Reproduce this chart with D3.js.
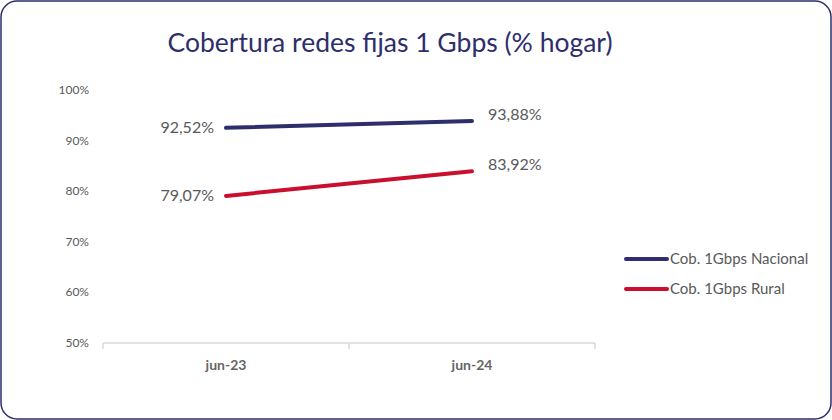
<!DOCTYPE html>
<html>
<head>
<meta charset="utf-8">
<script src="https://cdn.jsdelivr.net/npm/d3@7"></script>
<style>
  body { margin: 0; background: #fff; }
  svg { display: block; font-family: Lato, "Open Sans", sans-serif; }
</style>
</head>
<body>
<svg id="chart" width="832" height="420"></svg>
<script>
// data
const categories = ['jun-23', 'jun-24']
const nacional = [92.52, 93.88]
const rural = [79.07, 83.92]
const yTicks = [50, 60, 70, 80, 90, 100]
const seriesNames = ['Cob. 1Gbps Nacional', 'Cob. 1Gbps Rural']

const navy = '#2e2e6c'
const red = '#c8102e'
const grey = '#595959'

const svg = d3.select('#chart')

// frame
svg.append('rect')
  .attr('x', 1).attr('y', 1)
  .attr('width', 830).attr('height', 418)
  .attr('rx', 16).attr('ry', 16)
  .attr('fill', '#fff')
  .attr('stroke', navy)
  .attr('stroke-width', 1.5)

// title
svg.append('text')
  .attr('x', 390).attr('y', 52)
  .attr('text-anchor', 'middle')
  .attr('fill', navy)
  .attr('font-size', 26.5)
  .text('Cobertura redes fijas 1 Gbps (% hogar)')

// scales
const x = d3.scaleBand().domain(categories).range([103, 595])
const y = d3.scaleLinear().domain([50, 100]).range([343, 90])

// y axis labels
svg.append('g')
  .selectAll('text')
  .data(yTicks)
  .join('text')
  .attr('x', 89)
  .attr('y', d => y(d) + 4)
  .attr('text-anchor', 'end')
  .attr('fill', grey)
  .attr('font-size', 12)
  .text(d => d + '%')

// x axis
const xAxis = svg.append('g')
  .attr('transform', 'translate(0,343)')
  .call(d3.axisBottom(x).tickSize(0).tickFormat(''))
xAxis.select('.domain').remove()
xAxis.append('line')
  .attr('x1', 103).attr('x2', 595)
  .attr('stroke', '#d9d9d9').attr('stroke-width', 1.5)
xAxis.selectAll('.sep')
  .data([103, 349, 595])
  .join('line')
  .attr('x1', d => d).attr('x2', d => d)
  .attr('y1', 0).attr('y2', 6)
  .attr('stroke', '#d9d9d9').attr('stroke-width', 1.5)

svg.append('g')
  .selectAll('text')
  .data(categories)
  .join('text')
  .attr('x', d => x(d) + x.bandwidth() / 2)
  .attr('y', 370)
  .attr('text-anchor', 'middle')
  .attr('fill', '#666')
  .attr('font-size', 14)
  .attr('font-weight', 'bold')
  .text(d => d)

// lines
const line = d3.line()
  .x((d, i) => x(categories[i]) + x.bandwidth() / 2)
  .y(d => y(d))

const series = [
  {name: seriesNames[0], values: nacional, color: navy},
  {name: seriesNames[1], values: rural, color: red}
]

series.forEach(s => {
  svg.append('path')
    .datum(s.values)
    .attr('d', line)
    .attr('fill', 'none')
    .attr('stroke', s.color)
    .attr('stroke-width', 4)
    .attr('stroke-linecap', 'round')
})

// data labels
const fmt = v => v.toFixed(2).replace('.', ',') + '%'
series.forEach(s => {
  // first point: left of the marker
  svg.append('text')
    .attr('x', x(categories[0]) + x.bandwidth() / 2 - 12)
    .attr('y', y(s.values[0]) + 5)
    .attr('text-anchor', 'end')
    .attr('fill', grey)
    .attr('font-size', 16)
    .text(fmt(s.values[0]))
  // second point: above-right
  svg.append('text')
    .attr('x', x(categories[1]) + x.bandwidth() / 2 + 16)
    .attr('y', y(s.values[1]) - 1)
    .attr('text-anchor', 'start')
    .attr('fill', grey)
    .attr('font-size', 16)
    .text(fmt(s.values[1]))
})

// legend
const legend = svg.append('g')
  .selectAll('g')
  .data(series)
  .join('g')
  .attr('transform', (d, i) => 'translate(626,' + (259 + i * 30) + ')')
legend.append('line')
  .attr('x1', 0).attr('x2', 41)
  .attr('stroke', d => d.color)
  .attr('stroke-width', 4)
  .attr('stroke-linecap', 'round')
legend.append('text')
  .attr('x', 44).attr('y', 5)
  .attr('fill', grey)
  .attr('font-size', 15)
  .text(d => d.name)
</script>
</body>
</html>
